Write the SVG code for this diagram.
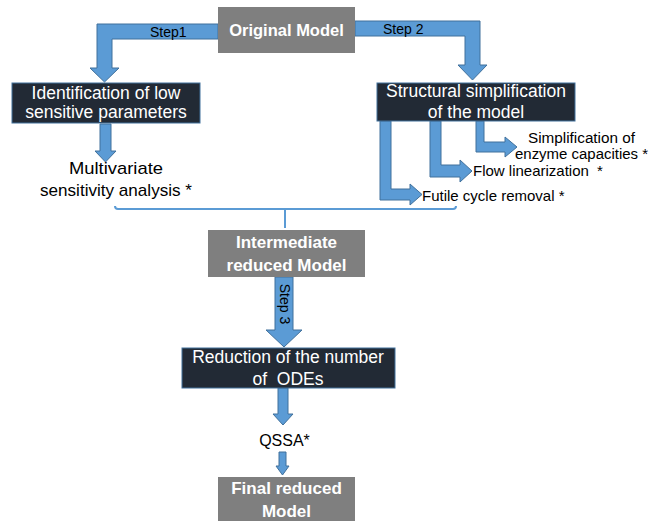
<svg xmlns="http://www.w3.org/2000/svg" width="659" height="521" viewBox="0 0 659 521">
<style>
.arrow{fill:#5b9bd5;stroke:#41719c;stroke-width:1}
.gray{fill:#7f7f7f}
.dark{fill:#222a35;stroke:#41719c;stroke-width:1}
.wb{font-family:"Liberation Sans",Arial,sans-serif;font-weight:bold;fill:#fff;text-anchor:middle;font-size:16.5px}
.wt{font-family:"Liberation Sans",Arial,sans-serif;fill:#fff;text-anchor:middle;font-size:17.5px}
.bt{font-family:"Liberation Sans",Arial,sans-serif;fill:#000;font-size:17px}
.st{font-family:"Liberation Sans",Arial,sans-serif;fill:#000;font-size:14px}
.sm{font-family:"Liberation Sans",Arial,sans-serif;fill:#000;font-size:15px}
.sx{font-family:"Liberation Sans",Arial,sans-serif;fill:#000;font-size:14px}
.br{fill:none;stroke:#5b9bd5;stroke-width:2}
</style>
<rect width="659" height="521" fill="#fff"/>
<g id="connectors">
<polygon class="arrow" points="218,24 97,24 97,68 90,68 104.5,82 119,68 112,68 112,39 218,39"/>
<text class="st" x="150" y="37">Step1</text>
<polygon class="arrow" points="355,21 480,21 480,65 487,65 472.5,80 458,65 465,65 465,36 355,36"/>
<text class="st" x="383" y="34">Step 2</text>
<polygon class="arrow" points="100,124 111,124 111,151 116,151 105.5,162 95,151 100,151"/>
<polygon class="arrow" points="380,121 391,121 391,189 410,189 410,184 422,194.5 410,205 410,200 380,200"/>
<polygon class="arrow" points="430,121 441,121 441,165 460,165 460,160 472,171 460,182 460,177 430,177"/>
<polygon class="arrow" points="476,121 484,121 484,142 505,142 505,137 517,147 505,157 505,152 476,152"/>
<path class="br" d="M115,206 Q115,209 118,209 L453,209 Q456,209 456,206 M285,209 L285,228"/>
<polygon class="arrow" points="275,277 293,277 293,330 302,330 284,347 266,330 275,330"/>
<text class="st" transform="translate(280,304) rotate(90)" text-anchor="middle">Step 3</text>
<polygon class="arrow" points="278,388 288,388 288,414 293,414 283,425 273,414 278,414"/>
<polygon class="arrow" points="279,452 286,452 286,466 289,466 282.5,475 276,466 279,466"/>
</g>
<g id="original">
<rect class="gray" x="218" y="7" width="137" height="46"/>
<text class="wb" x="286.5" y="36">Original Model</text>
</g>
<g id="identification">
<rect class="dark" x="12" y="83" width="188" height="40"/>
<text class="wt" x="106" y="99">Identification of low</text>
<text class="wt" x="106" y="118">sensitive parameters</text>
</g>
<g id="structural">
<rect class="dark" x="377" y="83" width="198" height="38"/>
<text class="wt" x="476" y="97">Structural simplification</text>
<text class="wt" x="476" y="118">of the model</text>
</g>
<g id="multivariate">
<text class="bt" x="116" y="174" text-anchor="middle" textLength="94" lengthAdjust="spacingAndGlyphs">Multivariate</text>
<text class="bt" x="116" y="196" text-anchor="middle" textLength="152" lengthAdjust="spacingAndGlyphs">sensitivity analysis *</text>
</g>
<g id="enzyme">
<text class="sx" x="528" y="143" textLength="107" lengthAdjust="spacingAndGlyphs">Simplification of</text>
<text class="sx" x="515" y="159" textLength="133" lengthAdjust="spacingAndGlyphs">enzyme capacities *</text>
</g>
<g id="flow">
<text class="sm" x="473" y="176">Flow linearization<tspan dx="8">*</tspan></text>
</g>
<g id="futile">
<text class="sm" x="422" y="201">Futile cycle removal *</text>
</g>
<g id="intermediate">
<rect class="gray" x="208" y="230" width="157" height="47"/>
<text class="wb" x="286.5" y="248" style="font-size:17px">Intermediate</text>
<text class="wb" x="286.5" y="271" style="font-size:17px">reduced Model</text>
</g>
<g id="reduction">
<rect class="dark" x="182" y="348" width="213" height="40"/>
<text class="wt" x="288" y="363">Reduction of the number</text>
<text class="wt" x="288" y="385" xml:space="preserve">of  ODEs</text>
</g>
<g id="qssa">
<text class="bt" x="284.5" y="446" text-anchor="middle" style="font-size:16px">QSSA*</text>
</g>
<g id="final">
<rect class="gray" x="218" y="477" width="137" height="50"/>
<text class="wb" x="286.5" y="494" style="font-size:17px">Final reduced</text>
<text class="wb" x="286.5" y="517" style="font-size:17px">Model</text>
</g>
</svg>
